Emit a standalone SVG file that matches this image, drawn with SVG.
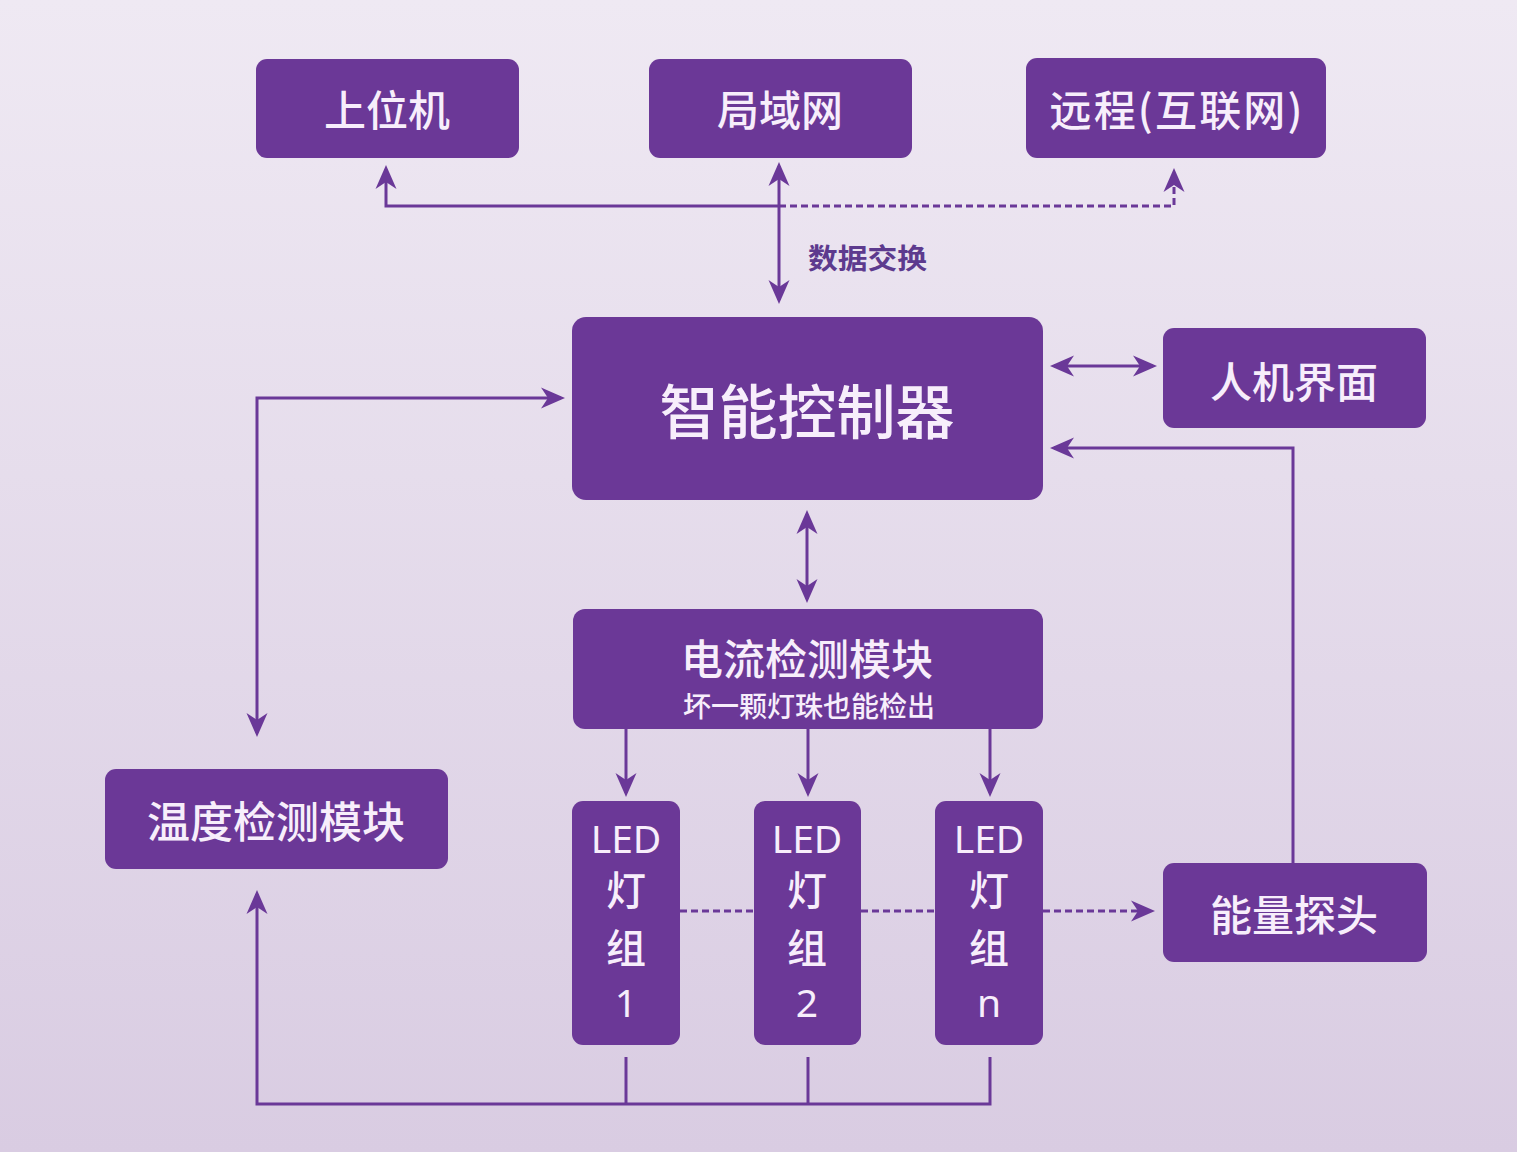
<svg xmlns="http://www.w3.org/2000/svg" width="1517" height="1152" viewBox="0 0 1517 1152">
<defs>
<linearGradient id="bg" x1="0" y1="0" x2="0" y2="1">
<stop offset="0" stop-color="#efe9f3"/>
<stop offset="1" stop-color="#d9cce2"/>
</linearGradient>
<marker id="arr" viewBox="0 0 24 24" refX="20" refY="12" markerWidth="24" markerHeight="24" markerUnits="userSpaceOnUse" orient="auto-start-reverse">
<path d="M0,1.5 L24,12 L0,22.5 L7,12 Z" fill="#6a3898"/>
</marker>
<style>
.box{fill:#6b3897;}
.t{fill:#f7eefb;font-family:"Noto Sans CJK SC","Noto Sans",sans-serif;font-weight:500;text-anchor:middle;dominant-baseline:central;}
.lat{fill:#f7eefb;font-family:"Noto Sans","Liberation Sans",sans-serif;text-anchor:middle;dominant-baseline:central;}
.c{fill:none;stroke:#6a3898;stroke-width:3;}
.d{stroke-dasharray:7 4;}
.a2{marker-start:url(#arr);marker-end:url(#arr);}
.a1{marker-end:url(#arr);}
.lbl{fill:#5d3a8e;font-family:"Noto Sans CJK SC",sans-serif;font-size:28px;font-weight:bold;dominant-baseline:central;}
</style>
</defs>
<rect width="1517" height="1152" fill="url(#bg)"/>
<g id="connectors">
<path class="c a2" d="M779,166 V300"/>
<path class="c a1" d="M779,206 H386 V169"/>
<path class="c d a1" d="M779,206 H1174 V172"/>
<path class="c a2" d="M1054,366 H1153"/>
<path class="c a1" d="M1293,863 V448 H1054"/>
<path class="c a2" d="M257,733 V398 H561"/>
<path class="c a2" d="M807,514 V599"/>
<path class="c a1" d="M626,729 V793"/>
<path class="c a1" d="M808,729 V793"/>
<path class="c a1" d="M990,729 V793"/>
<path class="c d" d="M680,911 H754"/>
<path class="c d" d="M861,911 H935"/>
<path class="c d a1" d="M1043,911 H1151"/>
<path class="c" d="M626,1057 V1104"/>
<path class="c" d="M808,1057 V1104"/>
<path class="c a1" d="M990,1057 V1104 H257 V894"/>
<text class="lbl" x="808" y="257" textLength="119" lengthAdjust="spacingAndGlyphs">数据交换</text>
</g>
<g id="n-shangweiji"><rect class="box" x="256" y="59" width="263" height="99" rx="11"/><text class="t" x="387" y="107" font-size="42">上位机</text></g>
<g id="n-lan"><rect class="box" x="649" y="59" width="263" height="99" rx="11"/><text class="t" x="780" y="107" font-size="42">局域网</text></g>
<g id="n-remote"><rect class="box" x="1026" y="58" width="300" height="100" rx="11"/><text class="t" x="1176" y="107" font-size="42" textLength="253" lengthAdjust="spacing">远程(互联网)</text></g>
<g id="n-controller"><rect class="box" x="572" y="317" width="471" height="183" rx="14"/><text class="t" x="807" y="408" font-size="59">智能控制器</text></g>
<g id="n-hmi"><rect class="box" x="1163" y="328" width="263" height="100" rx="11"/><text class="t" x="1294" y="379" font-size="42">人机界面</text></g>
<g id="n-current"><rect class="box" x="573" y="609" width="470" height="120" rx="12"/><text class="t" x="807" y="656" font-size="42">电流检测模块</text><text class="t" x="809" y="705" font-size="28">坏一颗灯珠也能检出</text></g>
<g id="n-temp"><rect class="box" x="105" y="769" width="343" height="100" rx="11"/><text class="t" x="276" y="819" font-size="43">温度检测模块</text></g>
<g id="n-led1"><rect class="box" x="572" y="801" width="108" height="244" rx="11"/><text class="lat" x="626" y="837" font-size="39">LED</text><text class="t" x="626" y="888" font-size="40">灯</text><text class="t" x="626" y="946" font-size="40">组</text><text class="lat" x="626" y="1001" font-size="39">1</text></g>
<g id="n-led2"><rect class="box" x="754" y="801" width="107" height="244" rx="11"/><text class="lat" x="807" y="837" font-size="39">LED</text><text class="t" x="807" y="888" font-size="40">灯</text><text class="t" x="807" y="946" font-size="40">组</text><text class="lat" x="807" y="1001" font-size="39">2</text></g>
<g id="n-ledn"><rect class="box" x="935" y="801" width="108" height="244" rx="11"/><text class="lat" x="989" y="837" font-size="39">LED</text><text class="t" x="989" y="888" font-size="40">灯</text><text class="t" x="989" y="946" font-size="40">组</text><text class="lat" x="989" y="1001" font-size="39">n</text></g>
<g id="n-probe"><rect class="box" x="1163" y="863" width="264" height="99" rx="11"/><text class="t" x="1294" y="912" font-size="42">能量探头</text></g>
</svg>
